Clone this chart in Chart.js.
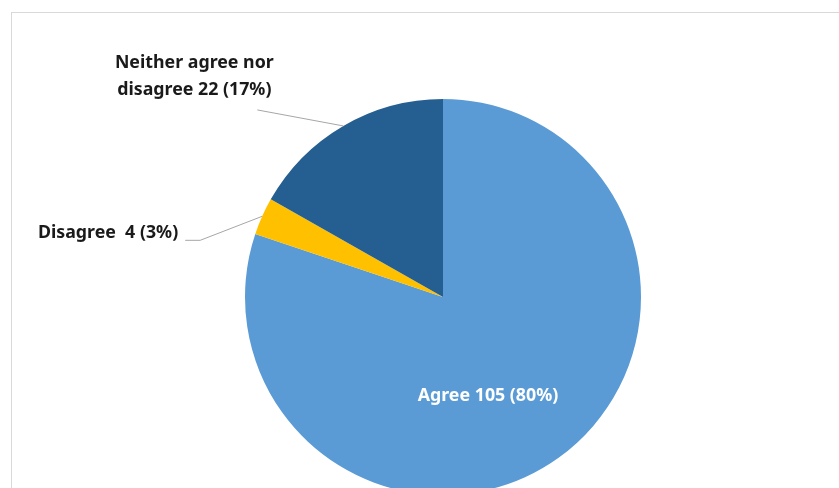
<!DOCTYPE html>
<html>
<head>
<meta charset="utf-8">
<script src="https://cdn.jsdelivr.net/npm/chart.js@4.4.1/dist/chart.umd.min.js"></script>
<style>
  html, body { margin: 0; padding: 0; background: #fff; }
  #wrap { position: relative; width: 839px; height: 488px; overflow: hidden; }
  #frame { position: absolute; left: 11px; top: 12px; width: 900px; height: 600px; border: 1px solid #d9d9d9; }
  #pie { position: absolute; left: 0; top: 0; }
</style>
</head>
<body>
<div id="wrap">
  <div id="frame"></div>
  <canvas id="pie" width="839" height="520"></canvas>
</div>
<script>
const categories = ['Agree', 'Disagree', 'Neither agree nor disagree'];
const counts = [105, 4, 22];
const percents = [80, 3, 17];
const colors = ['#5b9bd5', '#ffc000', '#255e91'];

const FONT = '"Noto Sans", sans-serif';

// label layout per slice: inside text, or leader line + text block outside
const labelLayout = [
  { inside: true, dx: 45, dy: 99, color: '#ffffff', lines: [categories[0] + ' ' + counts[0] + ' (' + percents[0] + '%)'] },
  { inside: false, leader: [[-62, 24], [-77, 24]], textX: -84, textY: 17, align: 'right',
    lines: [categories[1] + '  ' + counts[1] + ' (' + percents[1] + '%)'] },
  { inside: false, leader: [[-86, -16]], textX: -149, textY: -63, align: 'center',
    lines: ['Neither agree nor', 'disagree ' + counts[2] + ' (' + percents[2] + '%)'] }
];

const sliceLabels = {
  id: 'sliceLabels',
  afterDatasetsDraw(chart) {
    const ctx = chart.ctx;
    const arcs = chart.getDatasetMeta(0).data;
    ctx.save();
    ctx.font = 'bold 17.8px ' + FONT;
    ctx.textBaseline = 'middle';
    arcs.forEach((arc, i) => {
      const cfg = labelLayout[i];
      const p = arc.getProps(['x', 'y', 'startAngle', 'endAngle', 'outerRadius'], true);
      const mid = (p.startAngle + p.endAngle) / 2;
      if (cfg.inside) {
        ctx.fillStyle = cfg.color;
        ctx.textAlign = 'center';
        ctx.fillText(cfg.lines[0], p.x + cfg.dx, p.y + cfg.dy);
        return;
      }
      const ex = p.x + Math.cos(mid) * p.outerRadius;
      const ey = p.y + Math.sin(mid) * p.outerRadius;
      ctx.strokeStyle = '#a6a6a6';
      ctx.lineWidth = 1;
      ctx.beginPath();
      ctx.moveTo(ex, ey);
      cfg.leader.forEach(([lx, ly]) => ctx.lineTo(ex + lx, ey + ly));
      ctx.stroke();
      ctx.fillStyle = '#1a1a1a';
      ctx.textAlign = cfg.align;
      cfg.lines.forEach((t, k) => ctx.fillText(t, ex + cfg.textX, ey + cfg.textY + k * 27));
    });
    ctx.restore();
  }
};

new Chart(document.getElementById('pie'), {
  type: 'pie',
  data: {
    labels: categories,
    datasets: [{
      data: counts,
      backgroundColor: colors,
      borderWidth: 0
    }]
  },
  options: {
    responsive: false,
    animation: false,
    layout: { padding: { left: 245, right: 198, top: 99, bottom: 25 } },
    plugins: {
      legend: { display: false },
      tooltip: { enabled: false }
    }
  },
  plugins: [sliceLabels]
});
</script>
</body>
</html>
